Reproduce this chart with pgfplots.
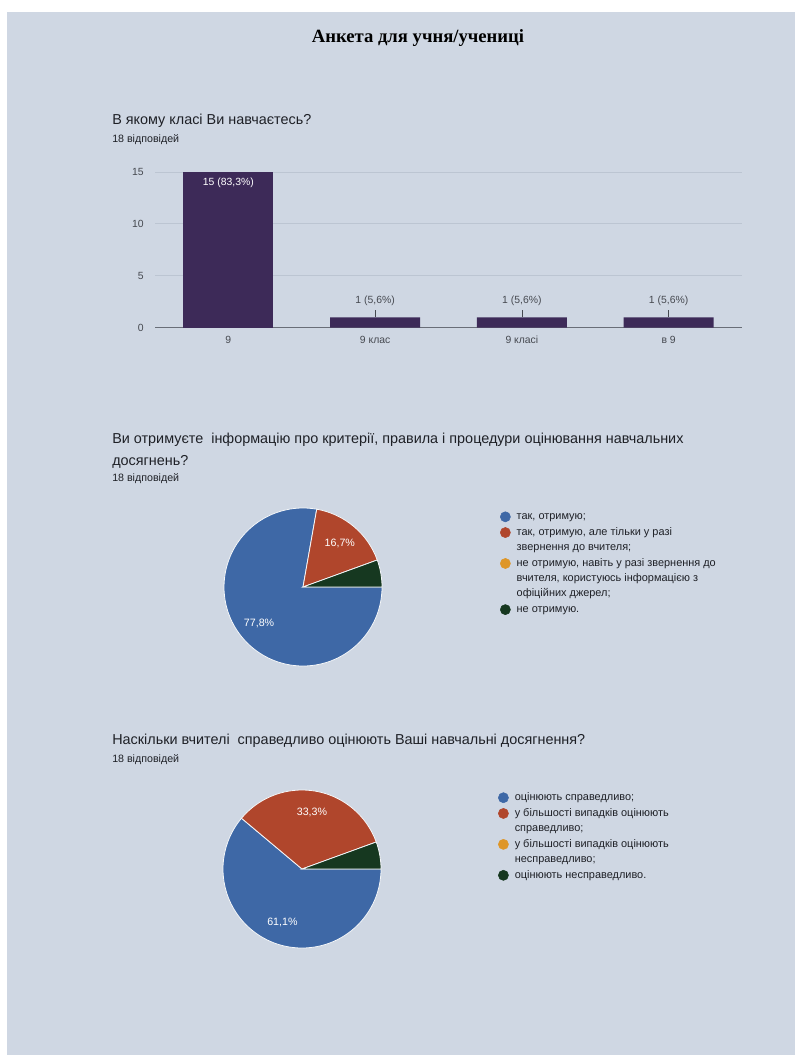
\documentclass[border=0pt]{standalone}
\usepackage{pgfplots}
\pgfplotsset{compat=1.18}
\usepackage{pgfplotstable}
\usepackage{fontspec}
\setmainfont{Liberation Sans}
\newfontfamily\titlefont{Liberation Serif}

\definecolor{pagebg}{RGB}{207,215,227}
\definecolor{ink}{RGB}{30,32,38}
\definecolor{tickc}{RGB}{70,73,80}
\definecolor{gridc}{RGB}{188,197,210}
\definecolor{basec}{RGB}{105,110,120}
\definecolor{barpurple}{RGB}{61,42,88}
\definecolor{pieblue}{RGB}{62,104,166}
\definecolor{piered}{RGB}{176,70,44}
\definecolor{pieorange}{RGB}{222,150,40}
\definecolor{piegreen}{RGB}{22,56,32}

% answers per class (18 in total)
\pgfplotstableread{
x n
0 15
}\barsbig
\pgfplotstableread{
x n
1 1
2 1
3 1
}\barssmall

% pie slices: answers before this slice / answers / colour
\pgfplotstableread{
x y slice
0 0 0/14/pieblue
0 0 14/3/piered
0 0 17/1/piegreen
}\pieinfo
\pgfplotstableread{
x y slice
0 0 0/11/pieblue
0 0 11/6/piered
0 0 17/1/piegreen
}\piefair

\def\drawslice#1/#2/#3\relax{%
  \pgfmathsetmacro\aS{-360*#1/18}%
  \pgfmathsetmacro\aE{-360*(#1+#2)/18}%
  \pgfmathsetmacro\aM{(\aS+\aE)/2}%
  \fill[#3, draw=white!80!pagebg, line width=0.6pt] (0pt,0pt) -- (\aS:59.25pt)
    arc[start angle=\aS, end angle=\aE, radius=59.25pt] -- cycle;
  \ifnum#2>1
    \pgfmathsetmacro\pct{100*#2/18}%
    \node[text=white, font=\fontsize{8}{9}\selectfont, inner sep=0pt] at (\aM:43pt)
      {\pgfmathprintnumber[fixed,fixed zerofill,precision=1,use comma,assume math mode=true]{\pct}\%};
  \fi}

\pgfplotsset{
  dotlegend/.style={legend image code/.code={\fill[#1] (3.8pt,0pt) circle[radius=3.8pt];}},
  pie axis/.style={
    scale only axis, width=118.5pt, height=118.5pt,
    xmin=-1, xmax=1, ymin=-1, ymax=1, hide axis, clip=false,
    legend cell align=left,
    legend style={draw=none, fill=none, inner sep=0pt, outer sep=0pt,
      anchor=north west, column sep=4.5pt, row sep=3.8pt,
      font=\fontsize{8.2}{9.8}\selectfont, text=ink,
      nodes={inner sep=0pt, text height=5.9pt, text depth=1.7pt}},
  },
  pie slices/.style={
    scatter, only marks, mark=*, mark size=0pt,
    mark options={draw=none, fill=none},
    point meta=explicit symbolic,
    scatter/@pre marker code/.code={\expandafter\drawslice\pgfplotspointmeta\relax},
    scatter/@post marker code/.code={},
  },
  bar label/.style={
    nodes near coords={\pgfmathsetmacro\pct{100*\pgfplotspointmeta/18}#1},
  },
}
\newcommand\barlab{\pgfplotspointmeta\ (\pgfmathprintnumber[fixed,fixed zerofill,precision=1,use comma,assume math mode=true]{\pct}\%)}

\begin{document}
\begin{tikzpicture}[x=0.75pt,y=-0.75pt]
\fill[white] (0,0) rectangle (795,1055);
\fill[pagebg] (7,12) rectangle (795,1055);

\node[font=\titlefont\bfseries\fontsize{14}{16}\selectfont, text=black] at (418,38) {Анкета для учня/учениці};

% question 1
\node[anchor=base west, inner sep=0pt, font=\fontsize{10.8}{13}\selectfont, text=ink] at (112,125) {В якому класі Ви навчаєтесь?};
\node[anchor=base west, inner sep=0pt, font=\fontsize{8}{9.6}\selectfont, text=ink] at (112,143) {18 відповідей};

\begin{axis}[
  at={({155*0.75pt},{-327.7*0.75pt})}, anchor=south west,
  scale only axis, width=440.25pt, height=116.8pt,
  xmin=-0.5, xmax=3.5, ymin=0, ymax=15,
  xtick={0,1,2,3}, xticklabels={9,9 клас,9 класі,в 9},
  ytick={5,10,15}, extra y ticks={0},
  extra y tick style={grid=major, major grid style={draw=basec, line width=0.9pt}},
  ymajorgrids, major grid style={draw=gridc, line width=0.6pt},
  axis line style={draw=none}, major tick length=0pt,
  tick label style={font=\fontsize{7.8}{9}\selectfont, text=tickc},
  yticklabel style={xshift=-5pt},
  xticklabel style={yshift=-2.5pt},
  /pgf/number format/assume math mode=true,
  clip=false,
]
\addplot[ybar, bar width=67.5pt, bar shift=0pt, fill=barpurple, draw=none,
  point meta=explicit symbolic,
  bar label={\barlab},
  every node near coord/.append style={anchor=north, text=white, font=\fontsize{7.8}{9}\selectfont, yshift=-3.5pt, inner sep=1pt},
] table[x=x, y=n, meta=n] {\barsbig};
\addplot[ybar, bar width=67.5pt, bar shift=0pt, fill=barpurple, draw=none,
  point meta=explicit symbolic,
  bar label={\shortstack{\barlab\\\rule{0.5pt}{5.5pt}}},
  every node near coord/.append style={anchor=south, text=tickc, font=\fontsize{7.8}{9}\selectfont, inner sep=0pt},
] table[x=x, y=n, meta=n] {\barssmall};
\end{axis}

% question 2
\node[anchor=base west, inner sep=0pt, font=\fontsize{10.8}{13}\selectfont, text=ink] at (112,443) {Ви отримуєте\ \ інформацію про критерії, правила і процедури оцінювання навчальних};
\node[anchor=base west, inner sep=0pt, font=\fontsize{10.8}{13}\selectfont, text=ink] at (112,465) {досягнень?};
\node[anchor=base west, inner sep=0pt, font=\fontsize{8}{9.6}\selectfont, text=ink] at (112,481) {18 відповідей};

\begin{axis}[pie axis, at={({303*0.75pt},{-587*0.75pt})}, anchor=center,
  legend style={at={(1.747,0.978)}}]
\addplot[pie slices, forget plot] table[x=x, y=y, meta=slice] {\pieinfo};
\addlegendimage{dotlegend=pieblue}\addlegendentry{так, отримую;}
\addlegendimage{dotlegend=piered}\addlegendentry{так, отримую, але тільки у разі}
\addlegendimage{empty legend}\addlegendentry{звернення до вчителя;}
\addlegendimage{dotlegend=pieorange}\addlegendentry{не отримую, навіть у разі звернення до}
\addlegendimage{empty legend}\addlegendentry{вчителя, користуюсь інформацією з}
\addlegendimage{empty legend}\addlegendentry{офіційних джерел;}
\addlegendimage{dotlegend=piegreen}\addlegendentry{не отримую.}
\end{axis}

% question 3
\node[anchor=base west, inner sep=0pt, font=\fontsize{10.8}{13}\selectfont, text=ink] at (112,744) {Наскільки вчителі\ \ справедливо оцінюють Ваші навчальні досягнення?};
\node[anchor=base west, inner sep=0pt, font=\fontsize{8}{9.6}\selectfont, text=ink] at (112,762) {18 відповідей};

\begin{axis}[pie axis, at={({302*0.75pt},{-869*0.75pt})}, anchor=center,
  legend style={at={(1.741,0.985)}}]
\addplot[pie slices, forget plot] table[x=x, y=y, meta=slice] {\piefair};
\addlegendimage{dotlegend=pieblue}\addlegendentry{оцінюють справедливо;}
\addlegendimage{dotlegend=piered}\addlegendentry{у більшості випадків оцінюють}
\addlegendimage{empty legend}\addlegendentry{справедливо;}
\addlegendimage{dotlegend=pieorange}\addlegendentry{у більшості випадків оцінюють}
\addlegendimage{empty legend}\addlegendentry{несправедливо;}
\addlegendimage{dotlegend=piegreen}\addlegendentry{оцінюють несправедливо.}
\end{axis}
\end{tikzpicture}
\end{document}
